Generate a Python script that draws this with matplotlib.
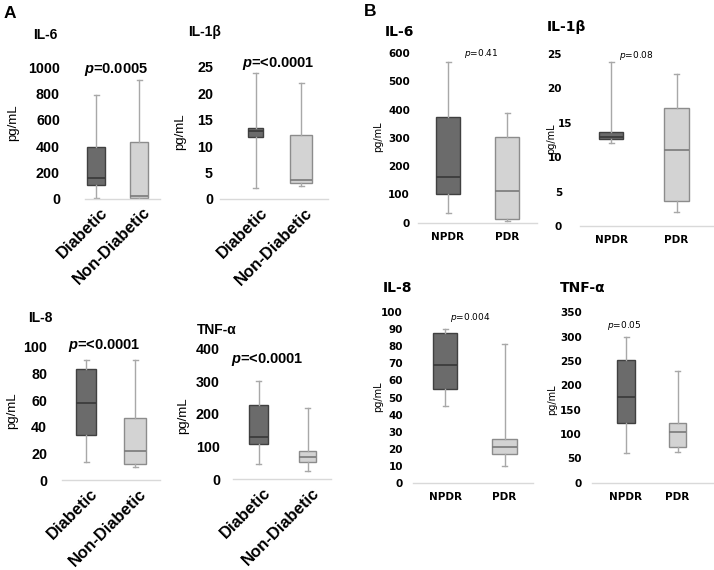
import matplotlib
matplotlib.use('Agg')
import matplotlib.pyplot as plt
from matplotlib.transforms import ScaledTranslation

# ---- data: five-number summary per group [whislo, q1, median, q3, whishi] ----
groups_a = ['Diabetic', 'Non-Diabetic']
groups_b = ['NPDR', 'PDR']

a_il6 = [[8, 104, 155, 397, 794], [0, 5, 22, 435, 903]]
a_il1b = [[2.1, 11.7, 12.9, 13.4, 23.9], [2.5, 3.0, 3.6, 12.1, 22.0]]
a_il8 = [[13.3, 33.8, 57.5, 83, 90], [9.5, 11.8, 21.5, 46.8, 90]]
a_tnf = [[46, 107, 130, 227, 301], [26.5, 54, 69, 87.5, 219]]

b_il6 = [[33, 103, 162, 372, 567], [7, 14, 112, 303, 387]]
b_il1b = [[12.1, 12.6, 13.0, 13.6, 23.9], [2.0, 3.7, 11.0, 17.1, 22.1]]
b_il8 = [[45, 55.2, 68.9, 88, 90.2], [10, 16.8, 20.7, 25.8, 81.4]]
b_tnf = [[60, 122, 177, 252, 300], [63, 74, 103.4, 122, 229.5]]

p_a = ['0.0005', '<0.0001', '<0.0001', '<0.0001']
p_b = ['0.41', '0.08', '0.004', '0.05']
titles = ['IL-6', 'IL-1β', 'IL-8', 'TNF-α']

W, H = 714, 570
plt.rcParams['mathtext.fontset'] = 'custom'
plt.rcParams['mathtext.it'] = 'DejaVu Sans:italic'
plt.rcParams['mathtext.bfit'] = 'Liberation Sans:italic:bold'

fig = plt.figure(figsize=(W / 100, H / 100), dpi=100)


def fx(x):
    return x / W


def fy(y):
    return 1 - y / H


STYLE_A = dict(font='Liberation Sans', tick=10.3, xlab=12, title=10, ylab=9.5,
               pfs=10.5, pw='bold', pmath=r'$\mathbfit{p}$', rot=45)
STYLE_B = dict(font='DejaVu Sans', tick=7.5, xlab=7.5, title=10, ylab=7,
               pfs=6.5, pw='normal', pmath=r'$\mathit{p}$', rot=0)

# layout in pixels: axis x-extent, y of top tick, y of zero, box centres, box widths,
# tick pad, title / p-text / ylabel positions
panels = [
    dict(stats=a_il6, groups=groups_a, ymax=1000, step=200, title=titles[0], p=p_a[0], st=STYLE_A,
         ax=(85, 160), yt=(67.5, 198.7), c=(96, 139), w=(18, 18), pad=25,
         tpos=(33, 35), ppos=(116, 70), lpos=(13, 123), xoff=(4, 6)),
    dict(stats=a_il1b, groups=groups_a, ymax=25, step=5, title=titles[1], p=p_a[1], st=STYLE_A,
         ax=(220, 328), yt=(67, 199), c=(255.5, 301), w=(15, 22), pad=7,
         tpos=(188, 32), ppos=(278, 63), lpos=(180, 132), xoff=(4, 6)),
    dict(stats=a_il8, groups=groups_a, ymax=100, step=20, title=titles[2], p=p_a[2], st=STYLE_A,
         ax=(62, 160), yt=(346.7, 480), c=(86, 135), w=(20, 22), pad=15,
         tpos=(28, 318), ppos=(104, 346), lpos=(12, 411), xoff=(4, 6)),
    dict(stats=a_tnf, groups=groups_a, ymax=400, step=100, title=titles[3], p=p_a[3], st=STYLE_A,
         ax=(233, 331), yt=(348.3, 479.3), c=(258.5, 307.5), w=(19, 17), pad=13,
         tpos=(197, 330), ppos=(267, 359), lpos=(183, 416), xoff=(4, 6)),
    dict(stats=b_il6, groups=groups_b, ymax=600, step=100, title=titles[0], p=p_b[0], st=STYLE_B,
         ax=(418, 537), yt=(53, 222.7), c=(448, 507), w=(24, 24), pad=8,
         tpos=(385, 32), ppos=(481, 54), lpos=(378, 137), xoff=(0, 9)),
    dict(stats=b_il1b, groups=groups_b, ymax=25, step=5, title=titles[1], p=p_b[1], st=STYLE_B,
         ax=(580, 713), yt=(54, 226), c=(611, 676.5), w=(24, 25), pad=18,
         tpos=(547, 27), ppos=(636, 56), lpos=(551, 139), xoff=(0, 9), shift15=True),
    dict(stats=b_il8, groups=groups_b, ymax=100, step=10, title=titles[2], p=p_b[2], st=STYLE_B,
         ax=(413, 533), yt=(312.3, 482.7), c=(445, 504.5), w=(24, 25), pad=10,
         tpos=(383, 288), ppos=(470, 318), lpos=(378, 397), xoff=(0, 9)),
    dict(stats=b_tnf, groups=groups_b, ymax=350, step=50, title=titles[3], p=p_b[3], st=STYLE_B,
         ax=(592, 713), yt=(312.3, 482.7), c=(626, 677.5), w=(18, 17), pad=10,
         tpos=(560, 288), ppos=(624, 326), lpos=(552, 400), xoff=(0, 9)),
]

FACE = ['#6b6b6b', '#d3d3d3']
EDGE = ['#404040', '#8c8c8c']
MED = ['#383838', '#7a7a7a']
WHISK = '#a8a8a8'

for pn in panels:
    st = pn['st']
    x0, x1 = pn['ax']
    ytop, yzero = pn['yt']
    c1, c2 = pn['c']
    s = c2 - c1
    ax = fig.add_axes([fx(x0), fy(yzero), (x1 - x0) / W, (yzero - ytop) / H])
    ax.set_xlim(1 - (c1 - x0) / s, 2 + (x1 - c2) / s)
    ax.set_ylim(0, pn['ymax'])

    bstats = [dict(whislo=v[0], q1=v[1], med=v[2], q3=v[3], whishi=v[4], fliers=[])
              for v in pn['stats']]
    res = ax.bxp(bstats, positions=[1, 2], widths=[pn['w'][0] / s, pn['w'][1] / s],
                 capwidths=[5 / s, 5 / s], patch_artist=True, showfliers=False,
                 whiskerprops=dict(color=WHISK, lw=1), capprops=dict(color=WHISK, lw=1))
    for i in range(2):
        res['boxes'][i].set_facecolor(FACE[i])
        res['boxes'][i].set_edgecolor(EDGE[i])
        res['boxes'][i].set_linewidth(1)
        res['medians'][i].set_color(MED[i])
        res['medians'][i].set_linewidth(1.2)

    for sp in ['top', 'right', 'left']:
        ax.spines[sp].set_visible(False)
    ax.spines['bottom'].set_color('#d9d9d9')
    ax.spines['bottom'].set_linewidth(1)

    ax.set_yticks(range(0, pn['ymax'] + 1, pn['step']))
    ax.tick_params(axis='y', length=0, pad=pn['pad'] * 0.72)
    for lbl in ax.get_yticklabels():
        lbl.set_fontfamily(st['font'])
        lbl.set_fontweight('bold')
        lbl.set_fontsize(st['tick'])
        # the label next to the y-title is nudged right, as in the original
        if pn.get('shift15') and lbl.get_text() == '15':
            lbl.set_transform(lbl.get_transform() +
                              ScaledTranslation(10 / 100, 0, fig.dpi_scale_trans))

    ax.set_xticks([1, 2])
    if st['rot']:
        ax.set_xticklabels(pn['groups'], rotation=st['rot'], ha='right', va='top',
                           rotation_mode='anchor', fontfamily=st['font'],
                           fontweight='bold', fontsize=st['xlab'])
    else:
        ax.set_xticklabels(pn['groups'], fontfamily=st['font'], fontweight='bold',
                           fontsize=st['xlab'])
    ax.tick_params(axis='x', length=0, pad=pn['xoff'][1] * 0.72)
    if st['rot']:
        for lbl in ax.get_xticklabels():
            lbl.set_transform(lbl.get_transform() +
                              ScaledTranslation(pn['xoff'][0] / 100, 0, fig.dpi_scale_trans))

    fig.text(fx(pn['tpos'][0]), fy(pn['tpos'][1]), pn['title'], ha='left', va='center',
             fontfamily=st['font'], fontweight='bold', fontsize=st['title'])
    fig.text(fx(pn['ppos'][0]), fy(pn['ppos'][1]), st['pmath'] + '=' + pn['p'],
             ha='center', va='center', fontfamily=st['font'], fontweight=st['pw'],
             fontsize=st['pfs'])
    fig.text(fx(pn['lpos'][0]), fy(pn['lpos'][1]), 'pg/mL', ha='center', va='center',
             rotation=90, fontfamily=st['font'], fontsize=st['ylab'])

fig.text(fx(10), fy(14), 'A', ha='center', va='center', fontfamily='Liberation Sans',
         fontweight='bold', fontsize=12.5)
fig.text(fx(370), fy(12), 'B', ha='center', va='center', fontfamily='Liberation Sans',
         fontweight='bold', fontsize=12.5)

fig.savefig('out.png', dpi=100, facecolor='white')
